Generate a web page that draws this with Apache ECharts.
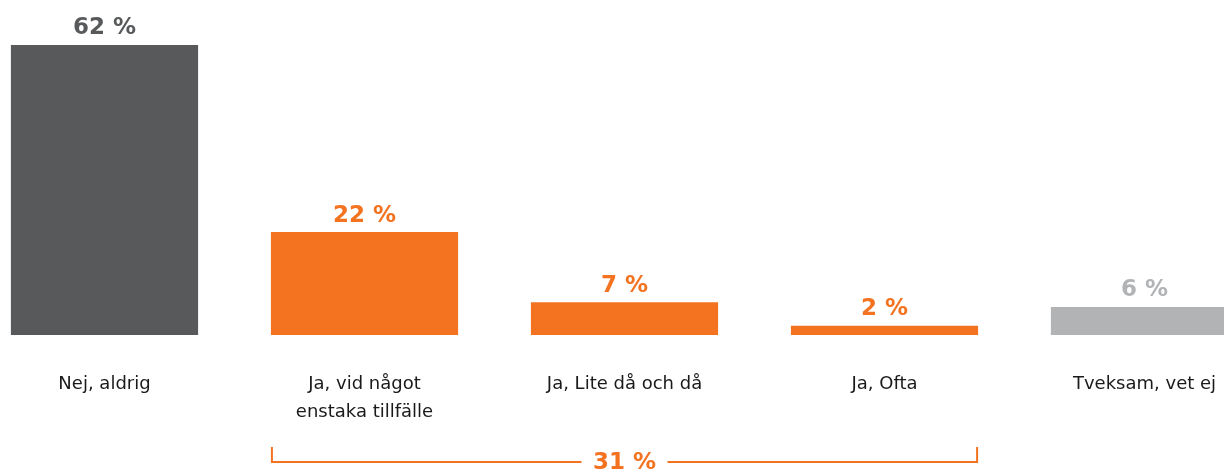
<!DOCTYPE html>
<html><head><meta charset="utf-8">
<script src="https://cdn.jsdelivr.net/npm/echarts@6/dist/echarts.min.js"></script>
<style>html,body{margin:0;padding:0;background:#fff}#c{width:1224px;height:472px}</style>
</head><body><div id="c"></div>
<script>
const categories = ['Nej, aldrig', 'Ja, vid något\nenstaka tillfälle', 'Ja, Lite då och då', 'Ja, Ofta', 'Tveksam, vet ej'];
const values = [62, 22, 7, 2, 6];
const barColors = ['#58595b', '#f37321', '#f37321', '#f37321', '#b1b3b5'];
const bracketFrom = 1, bracketTo = 3;
const bracketTotal = 31;

const FONT = '"DejaVu Sans", sans-serif';
const chart = echarts.init(document.getElementById('c'));
chart.setOption({
  animation: false,
  grid: { left: -25.5, right: -50.5, top: 45, bottom: 137, outerBoundsMode: 'none', containLabel: false },
  xAxis: {
    type: 'category', data: categories,
    axisLine: { show: false }, axisTick: { show: false },
    axisLabel: { interval: 0, margin: 35, color: '#1a1a1a', fontSize: 18, fontFamily: FONT, lineHeight: 28 }
  },
  yAxis: { type: 'value', min: 0, max: 62, show: false, splitLine: { show: false } },
  series: [{
    type: 'bar', barWidth: '72%',
    data: values.map((v, i) => ({ value: v, itemStyle: { color: barColors[i] },
      label: { color: barColors[i] } })),
    label: { show: true, position: 'top', distance: 5, formatter: '{c} %', fontSize: 23, fontWeight: 'bold', fontFamily: FONT }
  }]
});

function drawBracket() {
  const x1c = chart.convertToPixel({ xAxisIndex: 0 }, bracketFrom);
  const x2c = chart.convertToPixel({ xAxisIndex: 0 }, bracketTo);
  const band = chart.convertToPixel({ xAxisIndex: 0 }, 1) - chart.convertToPixel({ xAxisIndex: 0 }, 0);
  const half = band * 0.72 / 2;
  const x1 = x1c - half + 1, x2 = x2c + half - 1;
  const yTop = 447, yLine = 462;
  const mid = (x1 + x2) / 2;
  chart.setOption({
    graphic: [
      { type: 'polyline', shape: { points: [[x1, yTop], [x1, yLine], [x2, yLine], [x2, yTop]] },
        style: { stroke: '#f37321', lineWidth: 2, fill: null } },
      { type: 'rect', shape: { x: mid - 43, y: yLine - 12, width: 86, height: 24 }, style: { fill: '#fff' } },
      { type: 'text', x: mid, y: yLine + 1, style: { text: bracketTotal + ' %', fill: '#f37321', fontSize: 23, fontWeight: 'bold',
        fontFamily: FONT, align: 'center', verticalAlign: 'middle' } }
    ]
  });
}
drawBracket();
</script></body></html>
